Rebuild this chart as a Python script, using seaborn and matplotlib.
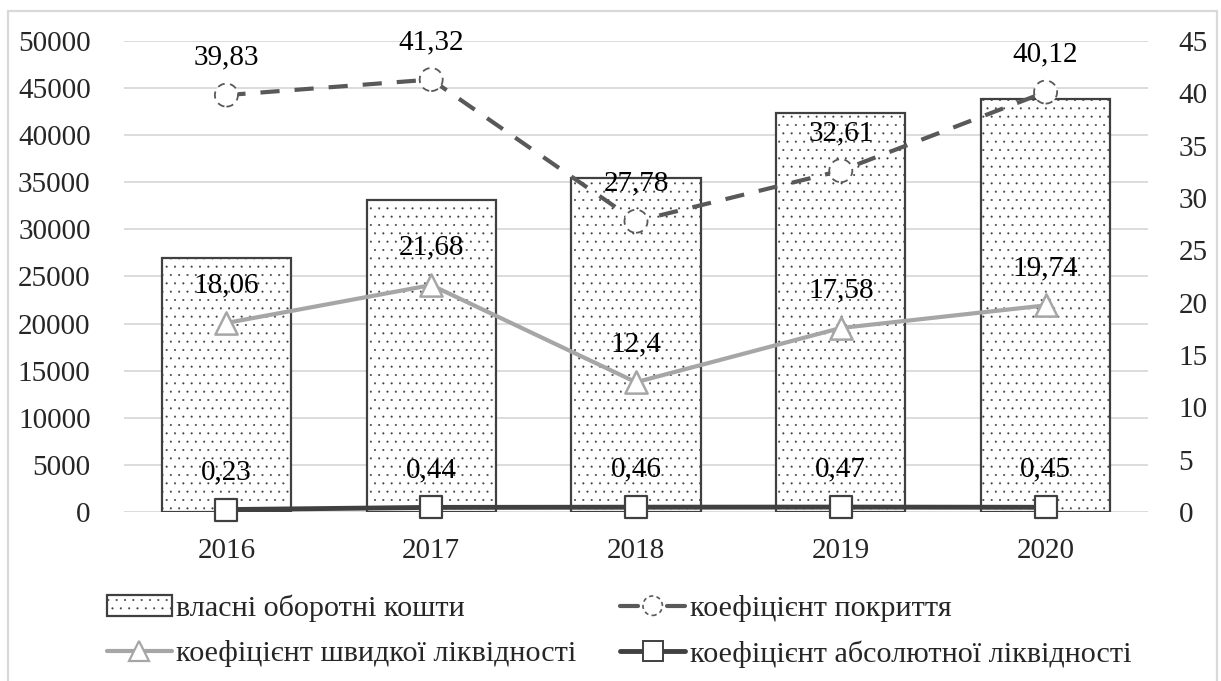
import matplotlib
matplotlib.use("Agg")
import matplotlib.pyplot as plt
import seaborn as sns
import pandas as pd
from matplotlib.patches import Patch, Rectangle, Circle
from matplotlib.lines import Line2D
from matplotlib.legend_handler import HandlerBase

# ---- data ----
years = ["2016", "2017", "2018", "2019", "2020"]
own_working_capital = [27000, 33100, 35500, 42400, 43800]
coverage_ratio = [39.83, 41.32, 27.78, 32.61, 40.12]
quick_ratio = [18.06, 21.68, 12.4, 17.58, 19.74]
absolute_ratio = [0.23, 0.44, 0.46, 0.47, 0.45]

left_ticks = list(range(0, 50001, 5000))
right_ticks = list(range(0, 46, 5))

series_names = [
    "власні оборотні кошти",
    "коефіцієнт швидкої ліквідності",
    "коефіцієнт покриття",
    "коефіцієнт абсолютної ліквідності",
]

# ---- style ----
sns.set_theme(style="white")
plt.rcParams["font.family"] = ["Liberation Serif", "DejaVu Serif"]
plt.rcParams["hatch.linewidth"] = 0.25
FS = 21
FS_LEG = 21.7

C_BAR_EDGE = "#404040"
C_COVER = "#595959"
C_QUICK = "#a6a6a6"
C_ABS = "#404040"
C_GRID = "#d9d9d9"

df = pd.DataFrame({
    "year": years,
    "capital": own_working_capital,
    "cover": coverage_ratio,
    "quick": quick_ratio,
    "absolute": absolute_ratio,
})
df["pos"] = range(len(years))

fig = plt.figure(figsize=(12.21, 6.81), dpi=100)
ax = fig.add_axes([124 / 1221, 1 - 512 / 681, (1148 - 124) / 1221, (512 - 41) / 681])

# outer frame
fig.patches.append(Rectangle((8 / 1221, -0.02), (1217 - 8) / 1221, 1 - 11 / 681 + 0.02,
                             transform=fig.transFigure, fill=False,
                             edgecolor=C_GRID, linewidth=1.6, zorder=0))

# bars on the left axis
sns.barplot(data=df, x="year", y="capital", ax=ax, color="white",
            edgecolor=C_BAR_EDGE, linewidth=1.6, width=0.63, hatch="..",
            saturation=1, zorder=2)
for p in ax.patches:
    p.set_facecolor("white")

ax.set_xlim(-0.5, len(years) - 0.5)
ax.set_ylim(0, 50000)
ax.set_yticks(left_ticks)
ax.set_yticklabels([str(t) for t in left_ticks])
ax.yaxis.grid(True, color=C_GRID, linewidth=1.3)
ax.set_axisbelow(True)
ax.set_xlabel("")
ax.set_ylabel("")
ax.tick_params(axis="both", length=0, labelsize=FS)
ax.tick_params(axis="y", pad=24)
ax.tick_params(axis="x", pad=19)
for s in ax.spines.values():
    s.set_visible(False)

# ratios on the right axis
ax2 = ax.twinx()
ax2.set_ylim(0, 45)
ax2.set_yticks(right_ticks)
ax2.set_yticklabels([str(t) for t in right_ticks])
ax2.tick_params(axis="y", length=0, labelsize=FS, pad=22)
ax2.grid(False)
for s in ax2.spines.values():
    s.set_visible(False)

sns.lineplot(data=df, x="pos", y="absolute", ax=ax2, color=C_ABS, linewidth=3.5,
             zorder=3, clip_on=False)
sns.lineplot(data=df, x="pos", y="quick", ax=ax2, color=C_QUICK, linewidth=3, zorder=3)
sns.lineplot(data=df, x="pos", y="cover", ax=ax2, color=C_COVER, linewidth=3, zorder=3,
             linestyle=(0, (4.6, 3.6)))

sns.scatterplot(data=df, x="pos", y="absolute", ax=ax2, marker="s", s=256,
                color="white", edgecolor=C_ABS, linewidth=1.6, zorder=4, clip_on=False)
sns.scatterplot(data=df, x="pos", y="quick", ax=ax2, marker="^", s=256,
                color="white", edgecolor=C_QUICK, linewidth=1.8, zorder=4)
sns.scatterplot(data=df, x="pos", y="cover", ax=ax2, marker="o", s=275,
                color="white", edgecolor=C_COVER, linewidth=1.3, zorder=4,
                linestyle=(0, (4, 3)))
ax2.set_xlim(-0.5, len(years) - 0.5)
ax2.set_xlabel("")
ax2.set_ylabel("")


def fmt(v):
    return f"{v:g}".replace(".", ",")


for col in ["cover", "quick", "absolute"]:
    for x, v in zip(df["pos"], df[col]):
        ax2.annotate(fmt(v), (x, v), xytext=(0, 27), textcoords="offset points",
                     ha="center", va="center", fontsize=FS, color="#000000", zorder=5)


# legend
class DashedCircleHandler(HandlerBase):
    def create_artists(self, legend, orig_handle, xdescent, ydescent,
                       width, height, fontsize, trans):
        y = height / 2 - ydescent
        x0 = -xdescent
        cx = x0 + width / 2
        r = 7.0
        left = Line2D([x0, cx - r - 3.5], [y, y], color=C_COVER, linewidth=3,
                      solid_capstyle="round", transform=trans)
        right = Line2D([cx + r + 3.5, x0 + width], [y, y], color=C_COVER, linewidth=3,
                       solid_capstyle="round", transform=trans)
        circ = Circle((cx, y), r, facecolor="white", edgecolor=C_COVER,
                      linewidth=1.2, linestyle=(0, (2.5, 2)), transform=trans)
        return [left, right, circ]


h_bar = Patch(facecolor="white", edgecolor=C_BAR_EDGE, linewidth=1.6, hatch="..")
h_quick = Line2D([], [], color=C_QUICK, linewidth=3, marker="^", markersize=14,
                 markerfacecolor="white", markeredgecolor=C_QUICK, markeredgewidth=1.6)
h_cover = Line2D([], [], color=C_COVER)
h_abs = Line2D([], [], color=C_ABS, linewidth=3.5, marker="s", markersize=14,
               markerfacecolor="white", markeredgecolor=C_ABS, markeredgewidth=1.4)

fig.legend([h_bar, h_quick, h_cover, h_abs], series_names, ncol=2,
           loc="center", bbox_to_anchor=(0.507, 0.073), frameon=False,
           fontsize=FS_LEG, handlelength=2.15, handletextpad=0.15, columnspacing=1.45,
           labelspacing=0.6, handler_map={h_cover: DashedCircleHandler()})

fig.savefig("out.png", dpi=100)
